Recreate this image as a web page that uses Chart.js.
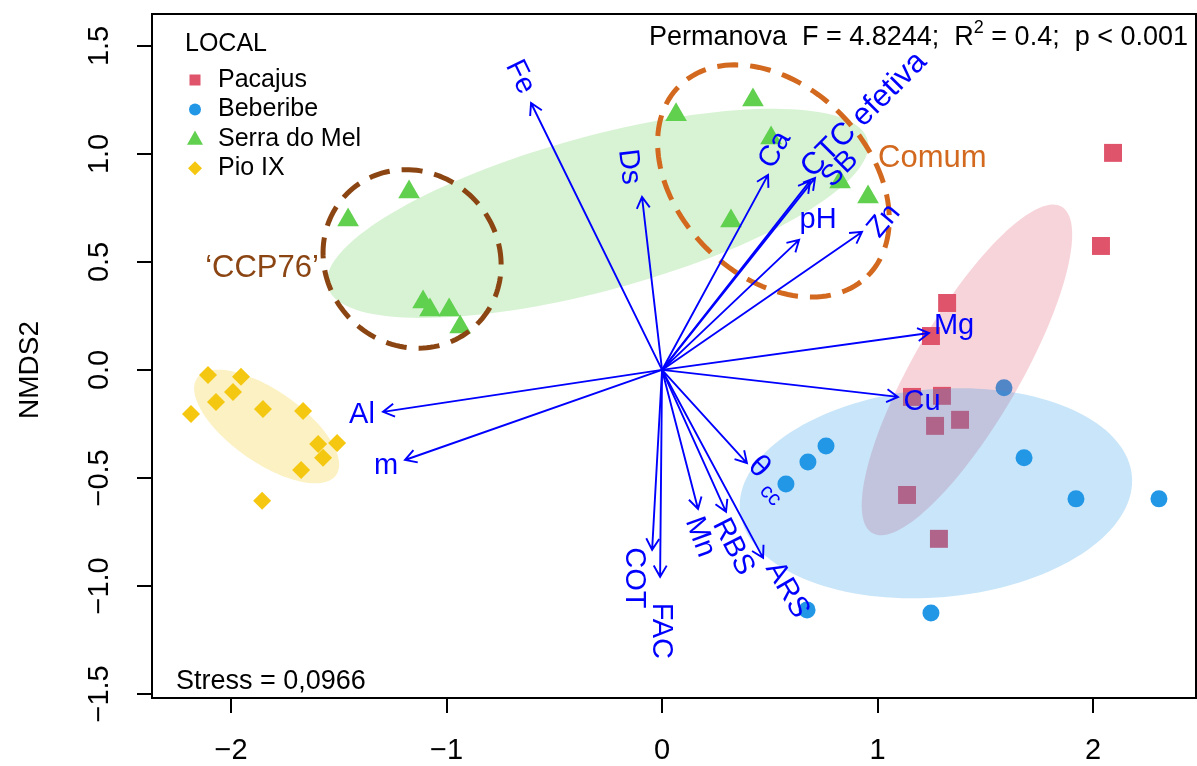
<!DOCTYPE html>
<html>
<head>
<meta charset="utf-8">
<title>NMDS</title>
<script src="https://cdn.jsdelivr.net/npm/chart.js@4.4.1/dist/chart.umd.min.js"></script>
<style>
  html, body { margin: 0; padding: 0; background: #fff; }
  #wrap { width: 1197px; height: 766px; }
</style>
</head>
<body>
<div id="wrap"><canvas id="nmds" width="1197" height="766"></canvas></div>
<script>
const FONT = '"Liberation Sans", Arial, Helvetica, sans-serif';

// sites (NMDS1 / NMDS2 scores)
const groups = ['Pacajus', 'Beberibe', 'Serra do Mel', 'Pio IX'];
const groupColors = ['#DF536B', '#2297E6', '#61D04F', '#F5C710'];

const pacajusX = [2.093, 2.037, 1.323, 1.248, 1.160, 1.299, 1.267, 1.383, 1.137, 1.285];
const pacajusY = [1.005, 0.574, 0.310, 0.157, -0.125, -0.120, -0.259, -0.231, -0.579, -0.782];
const beberibeX = [1.587, 0.761, 0.677, 0.575, 1.680, 1.921, 2.306, 0.673, 1.248];
const beberibeY = [-0.083, -0.352, -0.426, -0.528, -0.407, -0.597, -0.597, -1.111, -1.125];
const serraX = [-1.457, -1.174, -1.109, -1.077, -0.988, -0.937, 0.065, 0.422, 0.506, 0.320, 0.826, 0.956];
const serraY = [0.694, 0.824, 0.315, 0.278, 0.278, 0.199, 1.181, 1.250, 1.074, 0.690, 0.870, 0.801];
const pioX = [-2.107, -1.954, -1.991, -2.070, -2.186, -1.852, -1.666, -1.596, -1.508, -1.573, -1.675, -1.856];
const pioY = [-0.023, -0.032, -0.102, -0.148, -0.204, -0.181, -0.190, -0.343, -0.338, -0.407, -0.463, -0.606];

// envfit vectors
const envNames = ['Fe', 'Ds', 'Ca', 'CTC efetiva', 'SB', 'pH', 'Zn', 'Mg', 'Cu', 'θcc', 'ARS', 'RBS', 'Mn', 'COT', 'FAC', 'Al', 'm'];
const envX = [-0.608, -0.093, 0.492, 0.710, 0.687, 0.636, 0.928, 1.239, 1.095, 0.394, 0.469, 0.297, 0.167, -0.046, -0.009, -1.295, -1.193];
const envY = [1.236, 0.801, 0.903, 0.889, 0.875, 0.602, 0.639, 0.171, -0.125, -0.431, -0.870, -0.657, -0.644, -0.833, -0.958, -0.194, -0.417];

// group ellipses: centre, semi axes, angle (deg)
const ellipseCx = [1.415, 1.271, -0.299, -1.835];
const ellipseCy = [0.000, -0.571, 0.725, -0.262];
const ellipseA = [0.874, 0.913, 1.298, 0.393];
const ellipseB = [0.246, 0.482, 0.357, 0.167];
const ellipseAngle = [59.8, 5, 15.2, -34.8];

// dashed clusters
const clusterNames = ['\u2018CCP76\u2019', 'Comum'];
const clusterCx = [-1.160, 0.517];
const clusterCy = [0.514, 0.875];
const clusterA = [0.427, 0.620];
const clusterB = [0.399, 0.440];
const clusterAngle = [-45, -45];

const xTicks = [-2, -1, 0, 1, 2];
const yTicks = [-1.5, -1.0, -0.5, 0.0, 0.5, 1.0, 1.5];
const stressText = 'Stress = 0,0966';

// label placement: pixel offset from arrow tip and rotation
const labelNudge = {
  'Fe': [-11, -26, 64], 'Ds': [-13, -30, 83], 'Ca': [7, -25, -61],
  'CTC efetiva': [49, -63, -45], 'SB': [30, -12, -45], 'pH': [19, -20, 0],
  'Zn': [22, -11, -50], 'Mg': [25, -7, 0], 'Cu': [24, 5, 0], 'θcc': [12, 4, 45],
  'ARS': [24, 32, 60], 'RBS': [7, 35, 63], 'Mn': [2, 28, 70], 'COT': [-18, 28, 90],
  'FAC': [1, 54, 90], 'Al': [-21, 3, 0], 'm': [-19, 6, 0]
};
const clusterColors = ['#8B4513', '#D2691E'];

const minus = v => (v < 0 ? '\u2212' : '') + Math.abs(v);
const fmtY = v => (v < 0 ? '\u2212' : '') + Math.abs(v).toFixed(1);

function ellipsePath(ctx, xs, ys, cx, cy, a, b, deg) {
  const t = deg * Math.PI / 180;
  ctx.beginPath();
  for (let i = 0; i <= 144; i++) {
    const u = i / 144 * 2 * Math.PI;
    const ex = a * Math.cos(u), ey = b * Math.sin(u);
    const px = xs.getPixelForValue(cx + ex * Math.cos(t) - ey * Math.sin(t));
    const py = ys.getPixelForValue(cy + ex * Math.sin(t) + ey * Math.cos(t));
    if (i === 0) ctx.moveTo(px, py); else ctx.lineTo(px, py);
  }
  ctx.closePath();
}

function rotText(ctx, txt, x, y, deg) {
  ctx.save();
  ctx.translate(x, y);
  ctx.rotate(deg * Math.PI / 180);
  ctx.fillText(txt, 0, 0);
  ctx.restore();
}

function marker(ctx, style, x, y, r) {
  ctx.beginPath();
  if (style === 'rect') ctx.rect(x - r, y - r, 2 * r, 2 * r);
  else if (style === 'circle') ctx.arc(x, y, r, 0, 2 * Math.PI);
  else if (style === 'triangle') {
    ctx.moveTo(x, y - r * 1.05); ctx.lineTo(x + r, y + r * 0.75); ctx.lineTo(x - r, y + r * 0.75);
  } else {
    ctx.moveTo(x, y - r); ctx.lineTo(x + r, y); ctx.lineTo(x, y + r); ctx.lineTo(x - r, y);
  }
  ctx.closePath();
  ctx.fill();
}

const overlay = {
  id: 'overlay',
  afterDatasetsDraw(chart) {
    const ctx = chart.ctx, xs = chart.scales.x, ys = chart.scales.y, a = chart.chartArea;
    ctx.save();
    ctx.beginPath();
    ctx.rect(a.left, a.top, a.right - a.left, a.bottom - a.top);
    ctx.clip();

    // filled group ellipses (over points)
    ellipseCx.forEach((cx, i) => {
      ellipsePath(ctx, xs, ys, cx, ellipseCy[i], ellipseA[i], ellipseB[i], ellipseAngle[i]);
      ctx.globalAlpha = 0.25;
      ctx.fillStyle = groupColors[i];
      ctx.fill();
      ctx.globalAlpha = 1;
    });

    // dashed clusters
    ctx.setLineDash([21, 12]);
    ctx.lineWidth = 5;
    clusterCx.forEach((cx, i) => {
      ellipsePath(ctx, xs, ys, cx, clusterCy[i], clusterA[i], clusterB[i], clusterAngle[i]);
      ctx.strokeStyle = clusterColors[i];
      ctx.stroke();
    });
    ctx.setLineDash([]);

    // vectors
    const ox = xs.getPixelForValue(0), oy = ys.getPixelForValue(0);
    ctx.strokeStyle = '#0000FF';
    ctx.lineWidth = 1.9;
    envNames.forEach((n, i) => {
      const tx = xs.getPixelForValue(envX[i]), ty = ys.getPixelForValue(envY[i]);
      const ang = Math.atan2(ty - oy, tx - ox), L = 13, sp = Math.PI / 6;
      ctx.beginPath();
      ctx.moveTo(ox, oy); ctx.lineTo(tx, ty);
      ctx.moveTo(tx - L * Math.cos(ang - sp), ty - L * Math.sin(ang - sp));
      ctx.lineTo(tx, ty);
      ctx.lineTo(tx - L * Math.cos(ang + sp), ty - L * Math.sin(ang + sp));
      ctx.stroke();
    });

    // vector labels
    ctx.fillStyle = '#0000FF';
    ctx.textAlign = 'center';
    ctx.textBaseline = 'middle';
    envNames.forEach((n, i) => {
      const [dx, dy, rot] = labelNudge[n];
      const lx = xs.getPixelForValue(envX[i]) + dx, ly = ys.getPixelForValue(envY[i]) + dy;
      if (n === 'θcc') {
        ctx.save();
        ctx.translate(lx, ly);
        ctx.rotate(rot * Math.PI / 180);
        ctx.font = `31px ${FONT}`;
        ctx.fillText('θ', 0, 0);
        ctx.font = `21px ${FONT}`;
        ctx.fillText('cc', 28, 12);
        ctx.restore();
      } else {
        ctx.font = n === 'CTC efetiva' ? `31px ${FONT}` : `29px ${FONT}`;
        rotText(ctx, n, lx, ly, rot);
      }
    });

    // cluster labels
    ctx.font = `31px ${FONT}`;
    ctx.fillStyle = clusterColors[0];
    ctx.fillText(clusterNames[0], 262, 268);
    ctx.fillStyle = clusterColors[1];
    ctx.textAlign = 'left';
    ctx.fillText(clusterNames[1], 878, 158);
    ctx.restore();

    // box
    ctx.save();
    ctx.strokeStyle = '#000';
    ctx.lineWidth = 2;
    ctx.strokeRect(a.left, a.top, a.right - a.left, a.bottom - a.top);

    // axis labels
    ctx.fillStyle = '#000';
    ctx.font = `29px ${FONT}`;
    ctx.textAlign = 'center';
    ctx.textBaseline = 'middle';
    yTicks.forEach(v => rotText(ctx, fmtY(v), 100, ys.getPixelForValue(v), -90));
    xTicks.forEach(v => ctx.fillText(minus(v), xs.getPixelForValue(v), 751));
    ctx.font = `28px ${FONT}`;
    rotText(ctx, 'NMDS2', 30, ys.getPixelForValue(0), -90);

    // legend
    ctx.textAlign = 'left';
    ctx.font = `25px ${FONT}`;
    ctx.fillText('LOCAL', 185, 44);
    const styles = ['rect', 'circle', 'triangle', 'diamond'];
    const sizes = [5.5, 6, 8, 7];
    groups.forEach((g, i) => {
      const y = 80 + i * 29.4;
      ctx.fillStyle = groupColors[i];
      marker(ctx, styles[i], 195, y, sizes[i]);
      ctx.fillStyle = '#000';
      ctx.fillText(g, 218, y);
    });

    // annotations
    ctx.font = `27px ${FONT}`;
    ctx.fillText(stressText, 176, 682);
    const p1 = 'Permanova  F = 4.8244;  R', p3 = ' = 0.4;  p < 0.001';
    const w1 = ctx.measureText(p1).width, w3 = ctx.measureText(p3).width;
    ctx.font = `18px ${FONT}`;
    const w2 = ctx.measureText('2').width;
    const x0 = 1188 - w1 - w2 - w3;
    ctx.fillText('2', x0 + w1, 28);
    ctx.font = `27px ${FONT}`;
    ctx.fillText(p1, x0, 38);
    ctx.fillText(p3, x0 + w1 + w2, 38);
    ctx.restore();
  }
};

const ptStyles = ['rect', 'circle', 'triangle', 'rectRot'];
const ptRadius = [12.7, 8.5, 12.5, 9];
const seriesX = [pacajusX, beberibeX, serraX, pioX];
const seriesY = [pacajusY, beberibeY, serraY, pioY];

new Chart(document.getElementById('nmds'), {
  type: 'scatter',
  data: {
    datasets: groups.map((g, i) => ({
      label: g,
      data: seriesX[i].map((x, j) => ({ x: x, y: seriesY[i][j] })),
      pointStyle: ptStyles[i],
      pointRadius: ptRadius[i],
      pointBackgroundColor: groupColors[i],
      pointBorderWidth: 0
    }))
  },
  options: {
    responsive: false,
    animation: false,
    devicePixelRatio: 1,
    layout: { autoPadding: false, padding: { top: 14, right: 1, left: 0, bottom: 0 } },
    plugins: { legend: { display: false }, tooltip: { enabled: false } },
    scales: {
      x: {
        type: 'linear', min: -2.367, max: 2.478,
        afterBuildTicks: s => { s.ticks = xTicks.map(v => ({ value: v })); },
        afterFit: s => { s.height = 68; },
        grid: { drawOnChartArea: false, tickLength: 15, color: '#000', lineWidth: 2 },
        border: { display: true, color: '#000', width: 2 },
        ticks: { display: false }
      },
      y: {
        type: 'linear', min: -1.519, max: 1.648,
        afterBuildTicks: s => { s.ticks = yTicks.map(v => ({ value: v })); },
        afterFit: s => { s.width = 152; },
        grid: { drawOnChartArea: false, tickLength: 15, color: '#000', lineWidth: 2 },
        border: { display: true, color: '#000', width: 2 },
        ticks: { display: false }
      }
    }
  },
  plugins: [overlay]
});
</script>
</body>
</html>
